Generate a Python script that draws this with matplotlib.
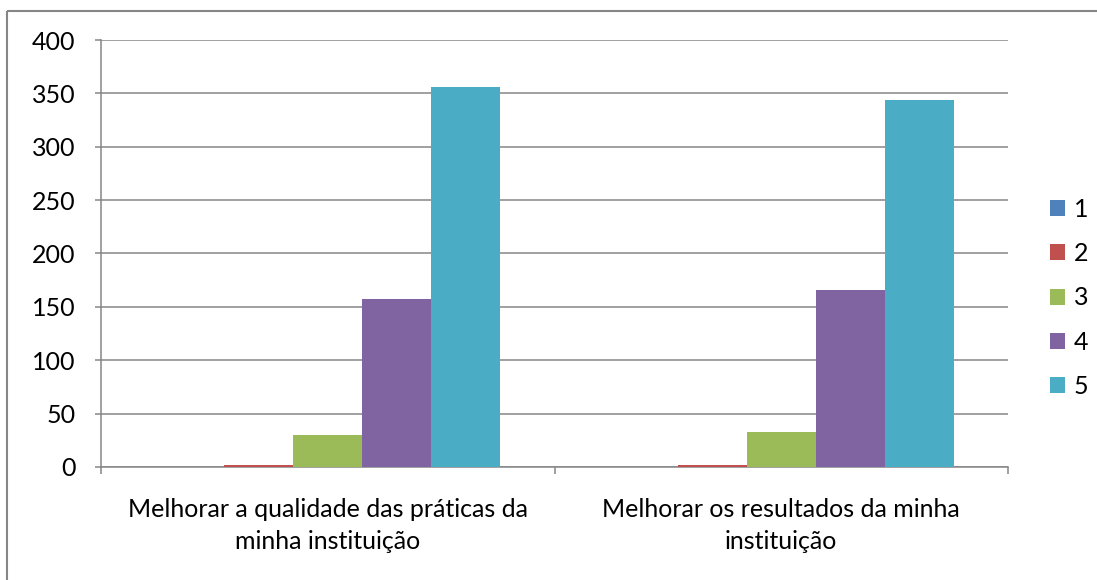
import matplotlib
matplotlib.use("Agg")
import matplotlib.pyplot as plt
import numpy as np
from matplotlib.lines import Line2D

categories = ["Melhorar a qualidade das práticas da\nminha instituição",
              "Melhorar os resultados da minha\ninstituição"]
series_names = ["1", "2", "3", "4", "5"]
s1 = [0, 0]
s2 = [2, 2]
s3 = [30, 33]
s4 = [157, 166]
s5 = [356, 344]
series_values = [s1, s2, s3, s4, s5]
colors = ["#4F81BD", "#C0504D", "#9BBB59", "#8064A2", "#4BACC6"]
yticks = [0, 50, 100, 150, 200, 250, 300, 350, 400]

plt.rcParams['font.family'] = ['Lato', 'DejaVu Sans']
FS = 18

W, H = 1097, 580
fig = plt.figure(figsize=(W / 100, H / 100), dpi=100)
ax = fig.add_axes([101 / W, 113 / H, (1008 - 101) / W, (467 - 40) / H])

# outer frame: only left and top edges fall inside the image
fx, fy = 6.5 / W, 1 - 10.5 / H
fig.add_artist(Line2D([fx, fx], [-0.01, fy], transform=fig.transFigure, color="#868686",
                      linewidth=1.5, solid_capstyle="butt"))
fig.add_artist(Line2D([fx, 1.01], [fy, fy], transform=fig.transFigure, color="#868686",
                      linewidth=1.5, solid_capstyle="butt"))

n = len(series_values)
bar_w = 0.76 / n
x = np.arange(len(categories))
for i, (vals, c, name) in enumerate(zip(series_values, colors, series_names)):
    offs = -0.38 + bar_w * (i + 0.5)
    ax.bar(x + offs, vals, width=bar_w, color=c, label=name, zorder=3, linewidth=0)

ax.set_xlim(-0.5, len(categories) - 0.5)
ax.set_ylim(0, 400)
ax.set_yticks(yticks)
ax.set_yticklabels([str(v) for v in yticks], fontsize=FS)
ax.yaxis.grid(True, color="#868686", linewidth=1.1, zorder=0)
ax.set_axisbelow(True)

ax.set_xticks(x)
ax.set_xticklabels(categories, fontsize=FS, linespacing=1.5)
ax.tick_params(axis='x', length=0, pad=22)
ax.set_xticks([-0.5, 0.5, 1.5], minor=True)
ax.tick_params(axis='x', which='minor', length=5, color="#868686", width=1.1)
ax.tick_params(axis='y', length=4.3, color="#868686", width=1.1, pad=14)

for s in ["top", "right"]:
    ax.spines[s].set_visible(False)
for s in ["left", "bottom"]:
    ax.spines[s].set_color("#868686")
    ax.spines[s].set_linewidth(1.1)

leg = ax.legend(loc="center left", bbox_to_anchor=(1.035, 0.396), frameon=False,
                fontsize=FS, handlelength=0.62, handleheight=0.62, labelspacing=0.85,
                handletextpad=0.35, borderaxespad=0)

fig.savefig("out.png", dpi=100)
